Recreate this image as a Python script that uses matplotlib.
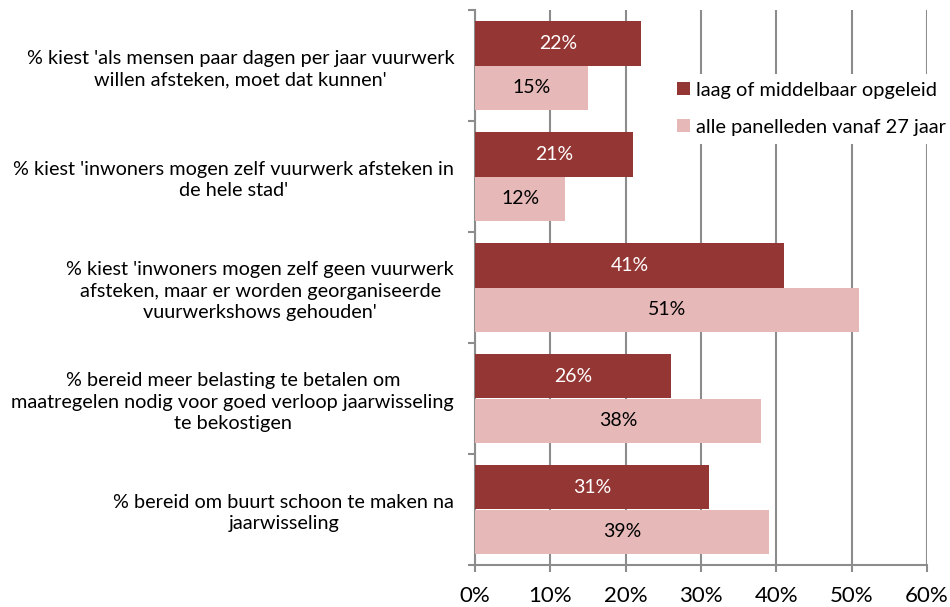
import matplotlib
matplotlib.use("Agg")
import matplotlib.pyplot as plt
from matplotlib.patches import Patch
import numpy as np

categories = [
    "% kiest 'als mensen paar dagen per jaar vuurwerk\nwillen afsteken, moet dat kunnen'",
    "% kiest 'inwoners mogen zelf vuurwerk afsteken in\nde hele stad'",
    "% kiest 'inwoners mogen zelf geen vuurwerk\nafsteken, maar er worden georganiseerde\nvuurwerkshows gehouden'",
    "% bereid meer belasting te betalen om\nmaatregelen nodig voor goed verloop jaarwisseling\nte bekostigen",
    "% bereid om buurt schoon te maken na\njaarwisseling",
]
series_names = ["laag of middelbaar opgeleid", "alle panelleden vanaf 27 jaar"]
laag = [22, 21, 41, 26, 31]
alle = [15, 12, 51, 38, 39]
xticks = [0, 10, 20, 30, 40, 50, 60]

dark = "#943634"
light = "#E6B9B8"
grid_c = "#8C8C8C"

plt.rcParams['font.family'] = ['Lato', 'DejaVu Sans']

fig = plt.figure(figsize=(9.5, 6.07), dpi=100)
ax = fig.add_axes([475/950, 1-565/607, (927-475)/950, (565-10)/607])

y = np.arange(len(categories))
h = 0.4
ax.barh(y - h/2, laag, height=h, color=dark, zorder=3)
ax.barh(y + h/2, alle, height=h, color=light, zorder=3)

for v, yy in zip(laag, y - h/2):
    ax.text(v/2, yy, f"{v}%", ha='center', va='center', color='white', fontsize=14, zorder=4)
for v, yy in zip(alle, y + h/2):
    ax.text(v/2, yy, f"{v}%", ha='center', va='center', color='black', fontsize=14, zorder=4)

ax.set_xlim(0, 60)
ax.set_ylim(len(categories) - 0.5, -0.5)
ax.set_xticks(xticks)
ax.set_xticklabels([f"{t}%" for t in xticks], fontsize=16)
ax.xaxis.grid(True, color=grid_c, linewidth=1.5, zorder=0)

ax.set_yticks(y)
ax.set_yticklabels(categories, fontsize=14.3, multialignment='center', linespacing=1.32)
ax.set_yticks(np.arange(-0.5, len(categories)), minor=True)
ax.tick_params(axis='y', which='major', length=0, pad=15)
ax.tick_params(axis='y', which='minor', length=5, width=1.5, color=grid_c)
ax.tick_params(axis='x', length=5, width=1.5, color=grid_c, pad=10)

for s in ['top', 'right']:
    ax.spines[s].set_visible(False)
for s in ['left', 'bottom']:
    ax.spines[s].set_color(grid_c)
    ax.spines[s].set_linewidth(1.5)

handles = [Patch(facecolor=dark), Patch(facecolor=light)]
leg = ax.legend(handles, series_names, loc='upper left', bbox_to_anchor=(0.43, 0.885),
                frameon=True, fontsize=14.4, handlelength=0.65, handleheight=0.65,
                handletextpad=0.3, labelspacing=1.0, borderaxespad=0)
leg.get_frame().set_edgecolor('none')
leg.get_frame().set_facecolor('white')
leg.get_frame().set_alpha(1)
leg.set_zorder(5)

fig.savefig("out.png", dpi=100)
